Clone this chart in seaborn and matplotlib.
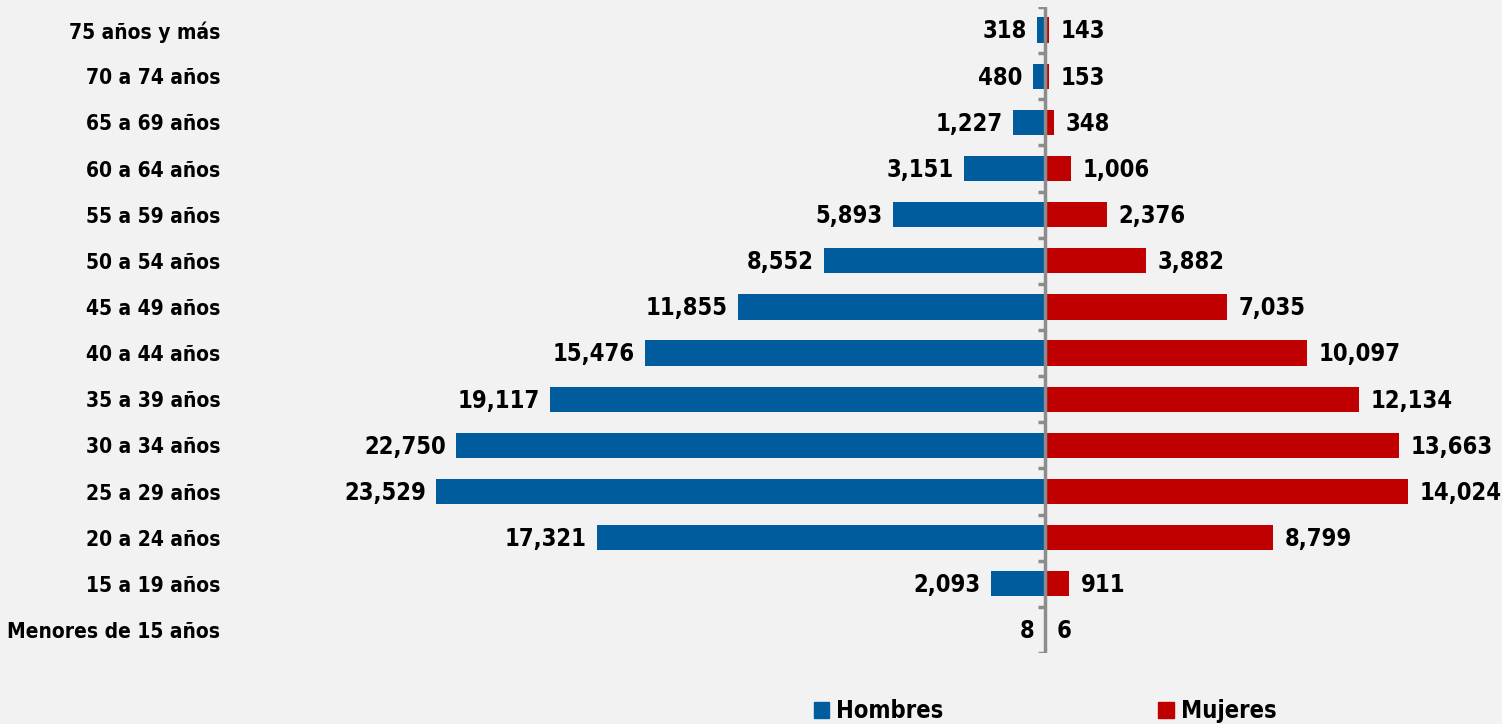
import numpy as np
import pandas as pd
import seaborn as sns
import matplotlib.pyplot as plt
from matplotlib.patches import Patch

# Data
grupos = ['75 años y más', '70 a 74 años', '65 a 69 años', '60 a 64 años',
          '55 a 59 años', '50 a 54 años', '45 a 49 años', '40 a 44 años',
          '35 a 39 años', '30 a 34 años', '25 a 29 años', '20 a 24 años',
          '15 a 19 años', 'Menores de 15 años']
hombres = [318, 480, 1227, 3151, 5893, 8552, 11855, 15476, 19117, 22750, 23529, 17321, 2093, 8]
mujeres = [143, 153, 348, 1006, 2376, 3882, 7035, 10097, 12134, 13663, 14024, 8799, 911, 6]

azul = '#005C9C'
rojo = '#C00000'
fondo = '#F2F2F2'

df = pd.DataFrame({
    'grupo': grupos * 2,
    'valor': [-v for v in hombres] + mujeres,
    'sexo': ['Hombres'] * len(grupos) + ['Mujeres'] * len(grupos),
})

sns.set_style('white')
plt.rcParams['font.family'] = ['DejaVu Sans']
plt.rcParams['font.stretch'] = 'condensed'
plt.rcParams['font.weight'] = 'bold'
plt.rcParams['text.color'] = 'black'
plt.rcParams['ytick.color'] = 'black'

fig = plt.figure(figsize=(15.02, 7.24), dpi=100, facecolor=fondo)
ax = fig.add_axes([230 / 1502, 71 / 724, 1250 / 1502, 646 / 724])
ax.set_facecolor(fondo)

sns.barplot(data=df, x='valor', y='grupo', hue='sexo', order=grupos, dodge=False,
            palette={'Hombres': azul, 'Mujeres': rojo}, width=0.55, saturation=1,
            linewidth=0, legend=False, ax=ax)

ax.set_xlim(-31500, 16800)
ax.set_ylim(len(grupos) - 0.5, -0.5)

# center axis with small ticks
ax.axvline(0, color='#8C8C8C', lw=2.5, zorder=5)
ax.hlines(np.arange(-0.5, len(grupos)), -260, 0, color='#8C8C8C', lw=2.5, zorder=5)

for i, (h, m) in enumerate(zip(hombres, mujeres)):
    ax.text(-h - 400, i + 0.03, f'{h:,}', ha='right', va='center', fontsize=17, fontweight='bold')
    ax.text(m + 450, i + 0.03, f'{m:,}', ha='left', va='center', fontsize=17, fontweight='bold')

ax.set_xlabel('')
ax.set_ylabel('')
ax.set_xticks([])
ax.tick_params(axis='y', length=0, pad=7, labelsize=15)
for lab in ax.get_yticklabels():
    lab.set_fontweight('bold')
for s in ax.spines.values():
    s.set_visible(False)

handles = [Patch(color=azul, label='Hombres'), Patch(color=rojo, label='Mujeres')]
fig.legend(handles=handles, loc='center', bbox_to_anchor=(1045 / 1502, 1 - 711 / 724),
           ncol=2, frameon=False, handlelength=0.65, handleheight=0.65,
           handletextpad=0.3, columnspacing=9.1, prop={'weight': 'bold', 'size': 17})

fig.savefig('out.png', dpi=100, facecolor=fondo)
